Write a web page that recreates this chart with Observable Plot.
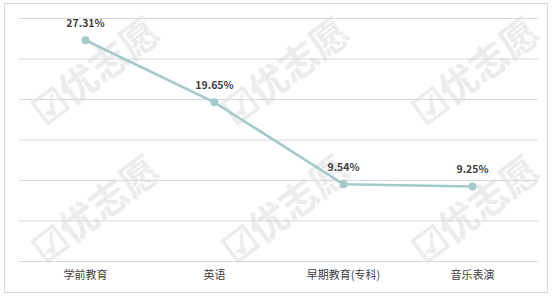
<!DOCTYPE html>
<html><head><meta charset="utf-8">
<script src="https://cdn.jsdelivr.net/npm/d3@7"></script>
<script src="https://cdn.jsdelivr.net/npm/@observablehq/plot@0.6"></script>
<style>
html,body{margin:0;padding:0;background:#fff;}
#wrap{position:relative;width:559px;height:296px;overflow:hidden;font-family:"Noto Sans CJK SC","Noto Sans",sans-serif;}
#border{position:absolute;left:4px;top:3px;width:544px;height:290px;border:1px solid #d9d9d9;box-sizing:border-box;}
.wm{position:absolute;color:#ececec;font-size:38px;font-weight:bold;transform:translate(-50%,-50%) rotate(-37deg);white-space:nowrap;line-height:1;}
#chart{position:absolute;left:0;top:0;}
</style></head>
<body><div id="wrap"><div id="border"></div><div id="chart"></div></div>
<script>
const categories = ["学前教育", "英语", "早期教育(专科)", "音乐表演"];
const values = [27.31, 19.65, 9.54, 9.25];
const labels = ["27.31%", "19.65%", "9.54%", "9.25%"];
const yTicks = [0, 5, 10, 15, 20, 25, 30];
const watermark = "☑优志愿";

const wrap = document.getElementById("wrap");
const wmPos = [[94,70],[284,70],[474,70],[94,208],[284,208],[474,208]];
for (const [x,y] of wmPos) {
  const d = document.createElement("div");
  d.className = "wm"; d.textContent = watermark;
  d.style.left = x + "px"; d.style.top = y + "px";
  wrap.insertBefore(d, document.getElementById("chart"));
}

const data = categories.map((c, i) => ({cat: c, v: values[i], label: labels[i]}));

const chart = Plot.plot({
  width: 559, height: 296,
  marginLeft: 19, marginRight: 21, marginTop: 18, marginBottom: 35,
  style: {background: "transparent", fontFamily: "\"Noto Sans CJK SC\", sans-serif"},
  x: {type: "point", domain: categories, padding: 0.5, label: null},
  y: {domain: [0, 30], label: null},
  marks: [
    Plot.ruleY(yTicks, {stroke: "#d9d9d9", strokeWidth: 1}),
    Plot.axisX({tickSize: 0, tickPadding: 10, fontSize: 11, fill: "#404040", label: null}),
    Plot.axisY({ticks: [], label: null}),
    Plot.line(data, {x: "cat", y: "v", stroke: "#a2cacb", strokeWidth: 2.6}),
    Plot.dot(data, {x: "cat", y: "v", fill: "#a2cacb", r: 4}),
    Plot.text(data, {x: "cat", y: "v", text: "label", dy: -17, fontSize: 10.5, fontWeight: "bold", fill: "#404040"})
  ]
});
document.getElementById("chart").appendChild(chart);
</script></body></html>
